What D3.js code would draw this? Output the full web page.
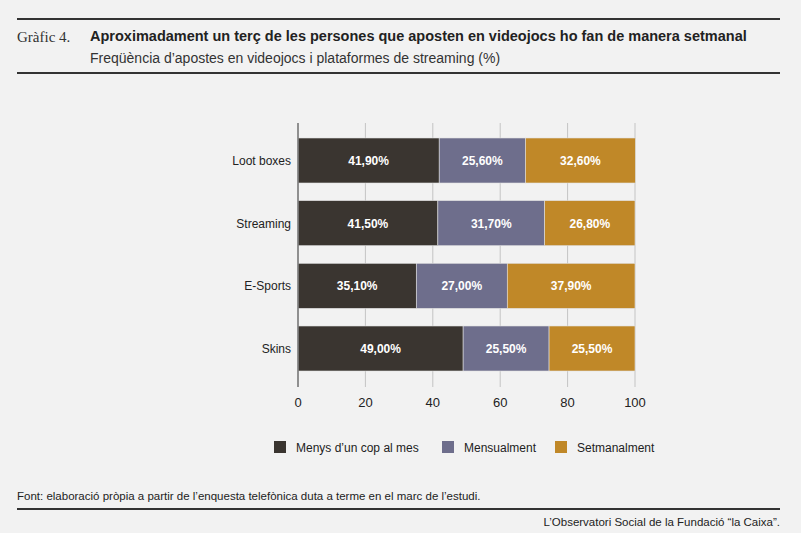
<!DOCTYPE html>
<html><head><meta charset="utf-8">
<script src="https://cdn.jsdelivr.net/npm/d3@7"></script>
<style>body{margin:0;background:#f2f2f2;}svg{display:block;font-family:"Liberation Sans",Arial,sans-serif;}</style>
</head><body><svg width="801" height="533"></svg>
<script>
const categories=["Loot boxes","Streaming","E-Sports","Skins"];
const seriesNames=["Menys d'un cop al mes","Mensualment","Setmanalment"];
const menys=[41.9,41.5,35.1,49.0];
const mensual=[25.6,31.7,27.0,25.5];
const setmanal=[32.6,26.8,37.9,25.5];
const ticks=[0,20,40,60,80,100];
const colors=["#3a3530","#6e6e8c","#c08828"];
const svg=d3.select("svg");
svg.append("rect").attr("width",801).attr("height",533).attr("fill","#f2f2f2");
svg.append("line").attr("x1",17).attr("x2",780).attr("y1",19).attr("y2",19).attr("stroke","#333").attr("stroke-width",2);
svg.append("line").attr("x1",17).attr("x2",780).attr("y1",73).attr("y2",73).attr("stroke","#333").attr("stroke-width",2);
svg.append("text").attr("x",17).attr("y",42).attr("font-family","Liberation Serif,serif").attr("font-size",15).attr("fill","#333").text("Gràfic 4.");
svg.append("text").attr("x",90).attr("y",41).attr("font-size",14.5).attr("font-weight","bold").attr("fill","#222").text("Aproximadament un terç de les persones que aposten en videojocs ho fan de manera setmanal");
svg.append("text").attr("x",90).attr("y",63).attr("font-size",14).attr("fill","#333").text("Freqüència d’apostes en videojocs i plataformes de streaming (%)");
const x=d3.scaleLinear().domain([0,100]).range([298,635]);
const y=d3.scaleBand().domain(categories).range([138,371]).paddingInner(0.282).paddingOuter(0);
svg.selectAll(".g").data(ticks).join("line").attr("x1",d=>x(d)).attr("x2",d=>x(d)).attr("y1",123).attr("y2",387).attr("stroke","#c4c4c4").attr("stroke-width",1);
const vals=[menys,mensual,setmanal];
const stack=categories.map((c,i)=>{let s=0;return vals.map((v,k)=>{const o={c,k,x0:s,v:v[i]};s+=v[i];return o;});}).flat();
svg.selectAll(".b").data(stack).join("rect").attr("x",d=>x(d.x0)).attr("width",d=>x(d.x0+d.v)-x(d.x0)).attr("y",d=>y(d.c)).attr("height",y.bandwidth()).attr("fill",d=>colors[d.k]).attr("stroke","#e0e0e0").attr("stroke-width",0.6);
svg.selectAll(".l").data(stack).join("text").attr("x",d=>x(d.x0+d.v/2)).attr("y",d=>y(d.c)+y.bandwidth()/2+4.5).attr("text-anchor","middle").attr("font-size",12).attr("font-weight","bold").attr("fill","#fff").text(d=>d.v.toFixed(2).replace(".",",")+"%");
svg.append("line").attr("x1",298).attr("x2",298).attr("y1",123).attr("y2",387).attr("stroke","#777").attr("stroke-width",1.5);
svg.selectAll(".c").data(categories).join("text").attr("x",291).attr("y",d=>y(d)+y.bandwidth()/2+4.5).attr("text-anchor","end").attr("font-size",12).attr("fill","#222").text(d=>d);
svg.selectAll(".t").data(ticks).join("text").attr("x",d=>x(d)).attr("y",407).attr("text-anchor","middle").attr("font-size",13).attr("fill","#222").text(d=>d);
const lx=[274,442,555];
seriesNames.forEach((n,i)=>{
 svg.append("rect").attr("x",lx[i]).attr("y",441).attr("width",12).attr("height",12).attr("fill",colors[i]);
 svg.append("text").attr("x",lx[i]+22).attr("y",452).attr("font-size",12).attr("fill","#222").text(n.replace("'","’"));
});
svg.append("text").attr("x",17).attr("y",500).attr("font-size",11.5).attr("fill","#222").text("Font: elaboració pròpia a partir de l’enquesta telefònica duta a terme en el marc de l’estudi.");
svg.append("line").attr("x1",17).attr("x2",780).attr("y1",509).attr("y2",509).attr("stroke","#333").attr("stroke-width",2);
svg.append("text").attr("x",780).attr("y",526).attr("text-anchor","end").attr("font-size",11.5).attr("fill","#222").text("L’Observatori Social de la Fundació “la Caixa”.");
</script></body></html>
